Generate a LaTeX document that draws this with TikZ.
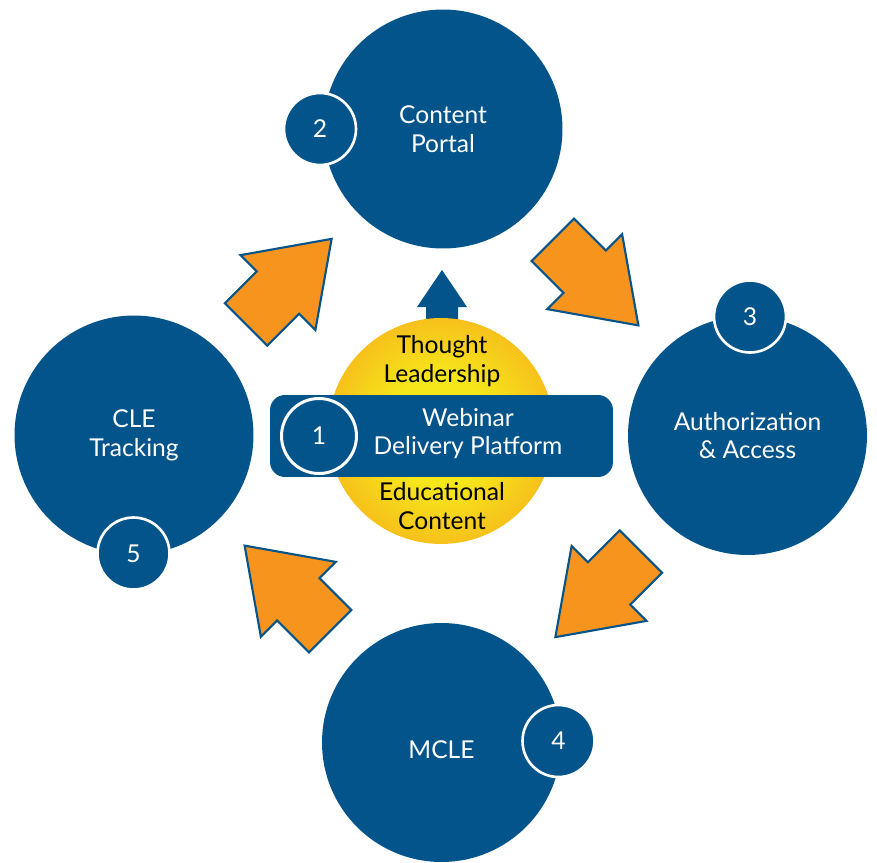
\documentclass[tikz,border=0pt]{standalone}
\usepackage{fontspec}
\setmainfont{Lato}
\usetikzlibrary{calc}

\definecolor{brandblue}{HTML}{03548A}
\definecolor{arroworange}{HTML}{F7941E}
\definecolor{hubyellow}{HTML}{F6E71B}
\definecolor{huborange}{HTML}{F6A11B}
\pgfdeclareradialshading{hubglow}{\pgfpoint{0bp}{0bp}}{color(0bp)=(hubyellow); color(12bp)=(hubyellow); color(36bp)=(huborange); color(71bp)=(huborange)}

\newcommand{\diagfont}{\fontsize{14}{16.4}\selectfont}

\tikzset{
  bigdisc/.style={circle, fill=brandblue, minimum size=4.78cm, inner sep=0pt, text=white, align=center, font=\diagfont},
  numdisc/.style={circle, fill=brandblue, draw=white, line width=1.5pt, minimum size=1.44cm, inner sep=0pt, text=white, font=\diagfont},
  disctext/.style={align=center, font=\diagfont},
  flowarrow/.pic={\draw[line width=1.2pt, draw=brandblue, fill=arroworange, line join=miter] (-60,30) -- (-15,30) -- (-15,53) -- (61,0) -- (-15,-53) -- (-15,-30) -- (-60,-30) -- cycle;}
}

\begin{document}
\begin{tikzpicture}[x=0.02cm, y=-0.02cm]
\useasboundingbox (0,0) rectangle (877,863);

% The four outer stations
\node[bigdisc] (portal) at (443,129) {Content\\Portal};
\node[bigdisc] (access) at (747.5,435.5) {Authorization\\\& Access};
\node[bigdisc] (mcle) at (441.5,742.5) {};
\node[disctext, text=white] (mcletext) at (441.5,750) {MCLE};
\node[bigdisc] (tracking) at (134,435) {CLE\\Tracking};

% Step numbers
\node[numdisc] (n2) at (320,129) {2};
\node[numdisc] (n3) at (750,316.5) {3};
\node[numdisc] (n4) at (558.5,741) {4};
\node[numdisc] (n5) at (133.5,553.5) {5};

% Orange arrows between the stations
\pic[rotate=45] at ($(tracking)!0.5!(portal)$) {flowarrow};
\pic[rotate=-45] at ($(portal)!0.5!(access)$) {flowarrow};
\pic[rotate=-135] at ($(access)!0.5!(mcle)+(4,5)$) {flowarrow};
\pic[rotate=135] at ($(mcle)!0.5!(tracking)$) {flowarrow};

% Arrow out of the hub
\coordinate (hubtop) at (442,318);
\fill[brandblue] (hubtop) ++(-16,10) -- ++(0,-21) -- ++(-9,0) -- ++(25,-37) -- ++(25,37) -- ++(-9,0) -- ++(0,21) -- cycle;

% The hub
\node[circle, minimum size=4.52cm, inner sep=0pt, shading=hubglow] (hub) at (441,431) {};
\node[rectangle, rounded corners=0.3cm, fill=brandblue, minimum width=6.86cm, minimum height=1.64cm] (band) at (441.5,436) {};
\node[numdisc, line width=1.7pt, minimum size=1.5cm] (n1) at (319,436) {1};
\node[disctext, text=white] (webinar) at (468,433.5) {Webinar\\Delivery Platform};
\node[disctext] (thought) at (442,361) {Thought\\Leadership};
\node[disctext] (educ) at (442,506) {Educational\\Content};
\end{tikzpicture}
\end{document}
